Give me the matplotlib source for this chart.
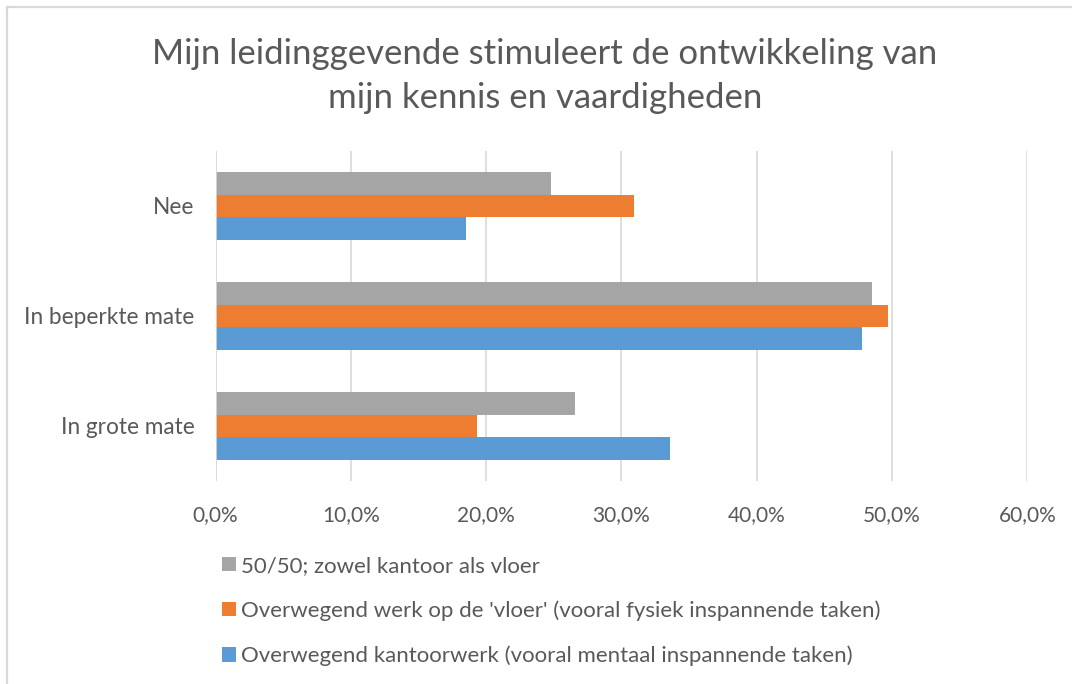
import matplotlib
matplotlib.use("Agg")
import matplotlib.pyplot as plt
import numpy as np
from matplotlib.lines import Line2D

plt.rcParams['font.family'] = ['Lato', 'DejaVu Sans']

title = "Mijn leidinggevende stimuleert de ontwikkeling van\nmijn kennis en vaardigheden"
categories = ["In grote mate", "In beperkte mate", "Nee"]
series_names = [
    "Overwegend kantoorwerk (vooral mentaal inspannende taken)",
    "Overwegend werk op de 'vloer' (vooral fysiek inspannende taken)",
    "50/50; zowel kantoor als vloer",
]
kantoor = [33.6, 47.8, 18.5]
vloer = [19.3, 49.7, 30.9]
beide = [26.6, 48.5, 24.8]
xticks = [0, 10, 20, 30, 40, 50, 60]
xticklabels = ["0,0%", "10,0%", "20,0%", "30,0%", "40,0%", "50,0%", "60,0%"]
colors = ["#5B9BD5", "#ED7D31", "#A5A5A5"]

W, H = 1072, 684
fig = plt.figure(figsize=(W / 100, H / 100), dpi=100)
# chart-area border (left and top visible)
fig.add_artist(Line2D([7 / W, 7 / W], [0, 1 - 7 / H], transform=fig.transFigure,
                      color="#D9D9D9", linewidth=1.6))
fig.add_artist(Line2D([7 / W, 1], [1 - 7 / H, 1 - 7 / H], transform=fig.transFigure,
                      color="#D9D9D9", linewidth=1.6))

left, right, top, bottom = 215.5, 1027.3, 151, 481
ax = fig.add_axes([left / W, 1 - bottom / H, (right - left) / W, (bottom - top) / H])

y = np.arange(len(categories))
bh = 0.206
data = [kantoor, vloer, beide]
for i, (vals, c, name) in enumerate(zip(data, colors, series_names)):
    ax.barh(y + (i - 1) * bh, vals, height=bh, color=c, label=name, zorder=3)

ax.set_xlim(0, 60)
ax.set_ylim(-0.5, len(categories) - 0.5)
ax.set_xticks(xticks)
ax.set_xticklabels(xticklabels, fontsize=15, color="#595959")
ax.set_yticks(y)
ax.set_yticklabels(categories, fontsize=16.3, color="#595959")
ax.tick_params(axis='both', length=0)
ax.tick_params(axis='x', pad=17)
ax.tick_params(axis='y', pad=15)
ax.grid(axis='x', color="#D9D9D9", linewidth=1.2, zorder=0)
for s in ax.spines.values():
    s.set_visible(False)
ax.axvline(0, color="#D9D9D9", linewidth=1.2, zorder=4)

fig.text(545 / W, 1 - 76 / H, title, ha='center', va='center', fontsize=25,
         color="#595959", linespacing=1.45)

handles, labels = ax.get_legend_handles_labels()
leg = fig.legend(handles[::-1], labels[::-1], loc='upper left',
                 bbox_to_anchor=(222 / W, 1 - 556 / H), frameon=False,
                 fontsize=16, labelcolor="#595959", handlelength=0.63, handleheight=0.63,
                 handletextpad=0.23, labelspacing=1.1, borderaxespad=0, borderpad=0)

fig.savefig("out.png", dpi=100)
